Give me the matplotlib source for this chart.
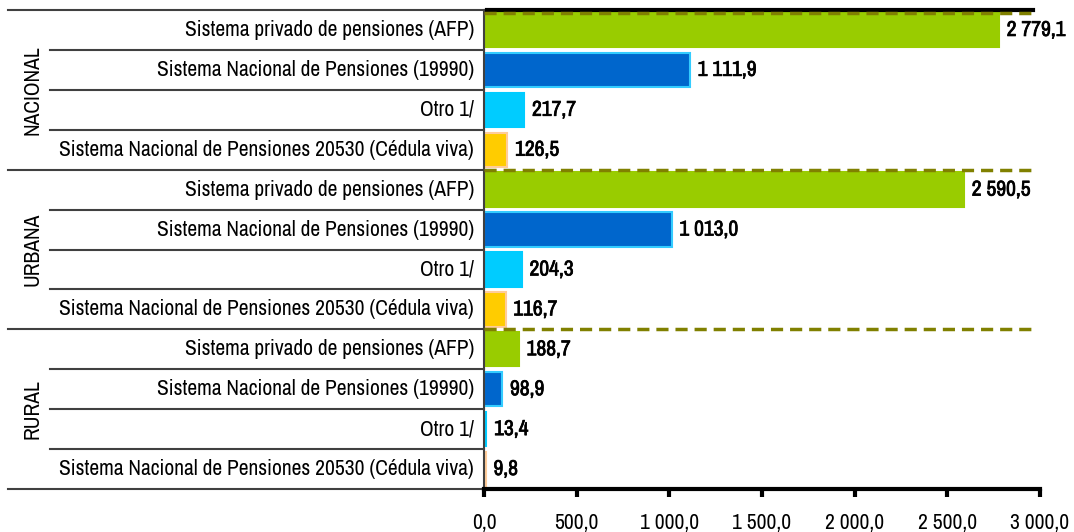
import numpy as np
import matplotlib.pyplot as plt
import matplotlib.patheffects as pe
from matplotlib import font_manager as fm

disponibles = set(f.name for f in fm.fontManager.ttflist)
preferidas = ['Liberation Sans Narrow', 'Arial Narrow', 'Archivo Narrow', 'Roboto Condensed',
              'PT Sans Narrow', 'Pragati Narrow', 'Liberation Sans']
fuente = [f for f in preferidas if f in disponibles][0]
plt.rcParams['font.family'] = [fuente, 'DejaVu Sans']

grupos = ['NACIONAL', 'URBANA', 'RURAL']
categorias = ['Sistema privado de pensiones (AFP)',
              'Sistema Nacional de Pensiones (19990)',
              'Otro 1/',
              'Sistema Nacional de Pensiones 20530 (Cédula viva)']
nacional = [2779.1, 1111.9, 217.7, 126.5]
urbana = [2590.5, 1013.0, 204.3, 116.7]
rural = [188.7, 98.9, 13.4, 9.8]
ticks = [0, 500, 1000, 1500, 2000, 2500, 3000]

colores = ['#99CC00', '#0066CC', '#00CCFF', '#FFCC00']
bordes = ['#99CC00', '#33CCFF', '#00CCFF', '#FFCC99']


def fmt(v):
    s = '{:,.1f}'.format(v)
    return s.replace(',', ' ').replace('.', ',')


fig = plt.figure(figsize=(10.74, 5.32), dpi=100)

# ajustar el tamaño de letra para que la etiqueta larga mida ~417 px
prueba = fig.text(0, 0, categorias[3], fontsize=13)
ancho = prueba.get_window_extent(renderer=fig.canvas.get_renderer()).width
prueba.remove()
fs = 13 * 417 / ancho

ax = fig.add_axes([484 / 1074, 1 - 489 / 532, 556 / 1074, 479 / 532])

# trazo extra para simular negrita en los valores
negrita = [pe.withStroke(linewidth=0.5, foreground='black')]

datos = [nacional, urbana, rural]
n = len(categorias)
for g, vals in enumerate(datos):
    y = np.arange(n) + g * n
    for i in range(n):
        ax.barh(y[i], vals[i], height=0.86, color=colores[i],
                edgecolor=bordes[i], linewidth=1.5)
        ax.annotate(fmt(vals[i]), (vals[i], y[i]), xytext=(5.5, 0),
                    textcoords='offset points', va='center', ha='left',
                    fontsize=fs, fontweight='bold', path_effects=negrita)

ax.set_ylim(len(grupos) * n - 0.5, -0.5)
ax.set_xlim(0, 3000)
ax.set_yticks([])
ax.set_xticks(ticks)
ax.set_xticklabels([fmt(t) for t in ticks], fontsize=fs)
ax.tick_params(axis='x', direction='out', length=6, width=3, pad=11, color='black')

ax.spines['right'].set_visible(False)
ax.spines['bottom'].set_linewidth(3)
ax.spines['bottom'].set_color('black')
ax.spines['top'].set_linewidth(3)
ax.spines['top'].set_color('black')
ax.spines['top'].set_bounds(15, 2960)
ax.spines['left'].set_linewidth(1.5)
ax.spines['left'].set_color('#404040')

# lineas discontinuas entre grupos
for g in range(len(grupos)):
    yy = g * n - 0.42 if g == 0 else g * n - 0.5
    ax.plot([0, 2960], [yy, yy], color='#808000', lw=2.5, ls=(0, (3.5, 2)), zorder=3)

# etiquetas y lineas de la zona izquierda
tr = ax.get_yaxis_transform()
x_grupo = (8 - 484) / 556
x_cat = (50 - 484) / 556
for g, nombre in enumerate(grupos):
    for i, cat in enumerate(categorias):
        y = g * n + i
        ax.text(-0.018, y, cat, transform=tr, ha='right', va='center', fontsize=fs)
        if i > 0:
            ax.plot([x_cat, 0], [y - 0.5, y - 0.5], transform=tr, color='#404040',
                    lw=1.5, clip_on=False)
    ax.plot([x_grupo, 0], [g * n - 0.5, g * n - 0.5], transform=tr, color='#404040',
            lw=1.5, clip_on=False)
    ax.text((33 - 484) / 556, g * n + (n - 1) / 2, nombre, transform=tr, rotation=90,
            ha='center', va='center', fontsize=fs)
ax.plot([x_grupo, 0], [len(grupos) * n - 0.5] * 2, transform=tr, color='#404040',
        lw=1.5, clip_on=False)

fig.savefig('out.png', dpi=100)
